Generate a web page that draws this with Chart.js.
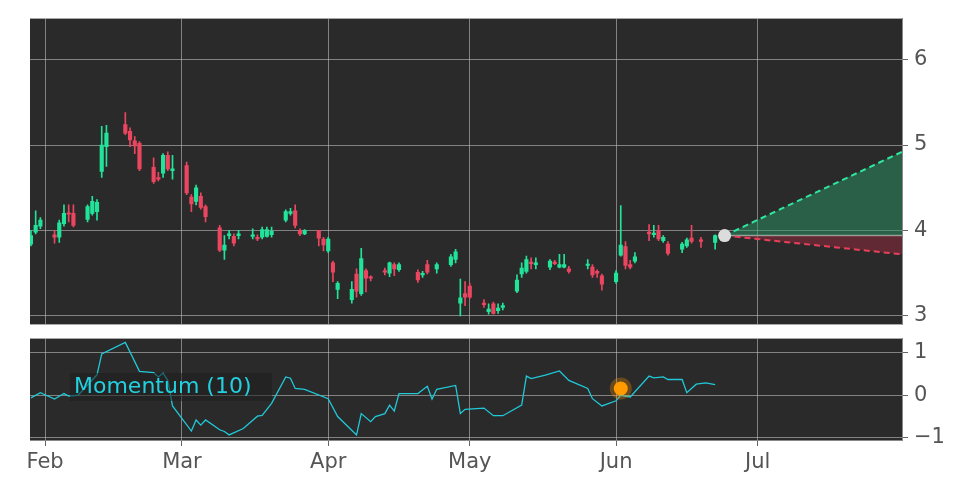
<!DOCTYPE html>
<html><head><meta charset="utf-8">
<script src="https://cdn.jsdelivr.net/npm/chart.js@4"></script>
<style>html,body{margin:0;padding:0;background:#fff;width:972px;height:486px;overflow:hidden}
canvas{position:absolute;left:0}</style></head>
<body>
<canvas id="top" width="972" height="343" style="top:0"></canvas>
<canvas id="bot" width="972" height="166" style="top:320px"></canvas>
<script>
// day index (Jan 1 = 0, leap year)
const days  = [28,29,30,33,34,35,36,37,40,41,42,43,44,48,49,50,51,54,55,56,57,58,61,62,63,64,65,68,69,70,71,72,75,76,77,78,79,82,83,84,85,86,89,90,91,92,93,96,97,98,99,100,103,104,105,106,110,111,112,114,117,118,119,120,121,124,125,126,127,128,131,132,133,134,135,138,139,140,141,142,146,147,148,149,152,153,154,155,156,159,160,161,162,163,166,167,168,170,173];
const opens = [3.84,3.98,4.05,3.95,3.92,4.08,4.2,4.2,4.13,4.2,4.22,4.69,4.98,5.24,5.16,5.05,5.02,4.74,4.62,4.67,4.88,4.7,4.76,4.39,4.34,4.4,4.28,4.03,3.77,3.94,3.93,3.94,3.93,3.92,3.92,3.93,3.95,4.12,4.2,4.23,4.0,3.96,4.0,3.9,3.76,3.62,3.31,3.19,3.49,3.26,3.53,3.45,3.53,3.5,3.6,3.54,3.51,3.48,3.6,3.55,3.6,3.66,3.15,3.26,3.35,3.15,3.05,3.14,3.06,3.1,3.29,3.49,3.52,3.63,3.6,3.57,3.63,3.57,3.57,3.55,3.59,3.57,3.52,3.47,3.4,3.71,3.81,3.6,3.64,3.98,3.95,4.0,3.88,3.84,3.78,3.82,3.91,3.89,3.86];
const closes= [3.94,4.06,4.12,3.92,4.09,4.2,4.19,4.06,4.28,4.34,4.33,5.0,5.14,5.14,5.06,4.99,4.72,4.57,4.6,4.88,4.72,4.72,4.44,4.31,4.5,4.27,4.16,3.77,3.83,3.96,3.85,3.96,3.95,3.9,4.01,4.01,3.99,4.22,4.22,4.06,3.96,4.0,3.91,3.83,3.9,3.51,3.38,3.31,3.29,3.67,3.44,3.44,3.51,3.62,3.55,3.6,3.42,3.49,3.51,3.6,3.69,3.75,3.21,3.22,3.22,3.13,3.08,3.03,3.09,3.12,3.42,3.56,3.66,3.61,3.62,3.64,3.61,3.6,3.6,3.52,3.6,3.48,3.5,3.37,3.5,3.83,3.59,3.57,3.69,3.96,3.97,3.9,3.92,3.73,3.84,3.89,3.87,3.87,3.94];
const highs = [4.0,4.23,4.15,4.0,4.12,4.3,4.3,4.3,4.3,4.4,4.36,5.22,5.23,5.38,5.2,5.1,5.04,4.85,4.68,4.9,4.92,4.88,4.8,4.42,4.53,4.44,4.3,4.06,3.94,4.0,3.96,4.0,4.02,3.95,4.04,4.04,4.04,4.24,4.26,4.3,4.02,4.01,4.0,3.92,3.92,3.64,3.4,3.4,3.55,3.79,3.55,3.47,3.56,3.63,3.62,3.62,3.54,3.52,3.65,3.62,3.72,3.78,3.43,3.4,3.38,3.19,3.14,3.16,3.14,3.15,3.48,3.62,3.7,3.68,3.68,3.66,3.65,3.72,3.72,3.58,3.66,3.6,3.54,3.49,3.53,4.29,3.87,3.65,3.74,4.07,4.06,4.06,3.94,3.87,3.86,3.91,4.06,3.92,3.95];
const lows  = [3.82,3.96,4.02,3.85,3.86,4.05,4.1,4.04,4.1,4.18,4.12,4.62,4.75,5.12,4.98,4.9,4.7,4.55,4.58,4.62,4.7,4.6,4.42,4.22,4.3,4.25,4.1,3.75,3.66,3.9,3.82,3.9,3.9,3.88,3.9,3.92,3.92,4.1,4.18,4.03,3.94,3.95,3.82,3.76,3.74,3.4,3.2,3.15,3.22,3.24,3.28,3.41,3.48,3.46,3.47,3.52,3.39,3.45,3.49,3.5,3.58,3.62,3.0,3.12,3.2,3.1,3.02,3.02,3.03,3.07,3.27,3.45,3.5,3.55,3.55,3.54,3.6,3.56,3.56,3.5,3.55,3.45,3.45,3.3,3.38,3.7,3.55,3.55,3.62,3.88,3.92,3.88,3.86,3.71,3.74,3.8,3.85,3.8,3.78];
// projection
const projDays = [175, 212.6];
const projUpper = [3.94, 4.92];
const projMid = [3.94, 3.94];
const projLower = [3.94, 3.72];
// momentum (10)
const momDays = [28,30,33,35,36,38,42,43,48,51,54,55,56,57,58,62,63,64,65,68,69,70,73,76,77,79,82,83,84,86,91,93,97,98,100,101,103,104,105,106,110,112,113,114,118,119,120,124,126,128,132,133,134,137,140,142,146,147,149,152,153,155,159,160,162,163,166,167,169,171,173];
const momVals = [-0.06,0.06,-0.09,0.04,-0.02,0,0.48,0.97,1.24,0.56,0.53,0.43,0.52,0.35,-0.25,-0.84,-0.58,-0.7,-0.58,-0.81,-0.85,-0.93,-0.78,-0.49,-0.47,-0.19,0.43,0.4,0.16,0.14,-0.08,-0.5,-0.93,-0.43,-0.62,-0.5,-0.43,-0.23,-0.37,0.04,0.04,0.21,-0.09,0.14,0.23,-0.43,-0.33,-0.3,-0.48,-0.48,-0.23,0.45,0.39,0.47,0.57,0.35,0.16,-0.08,-0.25,-0.13,0,-0.04,0.45,0.41,0.43,0.37,0.37,0.06,0.26,0.29,0.25];
const markDay = [153], markVal = [0.16];
const monthDays = [31,60,91,121,152,182];
const monthNames = ['Feb','Mar','Apr','May','Jun','Jul'];

const GREEN='#22e39a', RED='#ec4560';
const XMIN=27.8, XMAX=212.6;
const font={family:'DejaVu Sans',size:21};
Chart.defaults.scale.grid.borderDash=[4,3];
const bg={id:'bg',beforeDraw(c){const a=c.chartArea,x=c.ctx;x.save();x.fillStyle='#2a2a2a';x.fillRect(a.left,a.top,a.right-a.left,a.bottom-a.top);x.restore();}};
const grid={color:'rgba(190,190,190,0.6)',lineWidth:1,tickColor:'#666',tickLength:6,borderDash:[4,3]};

const colors = opens.map((o,i)=>closes[i]>=o?GREEN:RED);
new Chart(document.getElementById('top'),{
  type:'bar',
  data:{datasets:[
    {type:'line',data:projDays.map((d,i)=>({x:d,y:projMid[i]})),borderColor:'#cfcfcf',borderWidth:1.5,pointRadius:0,order:5},
    {type:'line',data:projDays.map((d,i)=>({x:d,y:projUpper[i]})),borderColor:'#2ee6a0',borderDash:[6,4],borderWidth:2,pointRadius:0,fill:'-1',backgroundColor:'rgba(40,150,100,0.5)',order:4},
    {type:'line',data:projDays.map((d,i)=>({x:d,y:projLower[i]})),borderColor:'#e8405a',borderDash:[6,4],borderWidth:2,pointRadius:0,fill:0,backgroundColor:'rgba(150,40,60,0.5)',order:4},
    {data:days.map((d,i)=>({x:d,y:[lows[i],highs[i]]})),backgroundColor:colors,barThickness:1,grouped:false,order:3},
    {data:days.map((d,i)=>({x:d,y:[opens[i],closes[i]]})),backgroundColor:colors,barThickness:3.5,minBarLength:1.5,grouped:false,order:2},
    {type:'scatter',data:[{x:projDays[0],y:projMid[0]}],pointRadius:6.5,backgroundColor:'#dcdcdc',borderWidth:0,order:1}
  ]},
  options:{responsive:false,animation:false,devicePixelRatio:1,
    layout:{padding:{left:30,top:12,bottom:7,right:0}},
    plugins:{legend:{display:false},tooltip:{enabled:false}},
    scales:{
      x:{type:'linear',offset:false,min:XMIN,max:XMAX,border:{display:false},grid:{...grid,drawTicks:false,offset:false},ticks:{display:false},
        afterBuildTicks:s=>{s.ticks=monthDays.map(v=>({value:v}));},afterFit:s=>{s.height=0;}},
      y:{position:'right',min:2.9,max:6.48,border:{color:'#888'},grid:{...grid},
        ticks:{color:'#555',font,padding:6},afterBuildTicks:s=>{s.ticks=[3,4,5,6].map(v=>({value:v}));},afterFit:s=>{s.width=70;}}
    }},
  plugins:[bg]
});

const label={id:'lbl',afterDatasetsDraw(c){const x=c.ctx;x.save();x.font='22px DejaVu Sans';x.fillStyle='rgba(30,30,30,0.55)';x.fillRect(70,53,202,28);x.fillStyle='#22d0e0';x.textBaseline='middle';x.fillText('Momentum (10)',74,67);x.restore();}};
new Chart(document.getElementById('bot'),{
  type:'line',
  data:{datasets:[
    {data:momDays.map((d,i)=>({x:d,y:momVals[i]})),borderColor:'#20c8d8',borderWidth:1.3,pointRadius:0,tension:0,order:2},
    {type:'scatter',data:markDay.map((d,i)=>({x:d,y:markVal[i]})),pointRadius:7,backgroundColor:'#ff9d00',borderColor:'rgba(255,150,0,0.3)',borderWidth:8,order:1}
  ]},
  options:{responsive:false,animation:false,devicePixelRatio:1,
    layout:{padding:{left:30,top:8,right:0,bottom:0}},
    plugins:{legend:{display:false},tooltip:{enabled:false}},
    scales:{
      x:{type:'linear',min:XMIN,max:XMAX,border:{color:'#888'},grid:{...grid},
        ticks:{color:'#555',font,padding:4,maxRotation:0,callback:v=>monthNames[monthDays.indexOf(v)]},
        afterBuildTicks:s=>{s.ticks=monthDays.map(v=>({value:v}));},afterFit:s=>{s.height=46;}},
      y:{position:'right',min:-1.05,max:1.33,border:{color:'#888'},grid:{...grid},
        ticks:{color:'#555',font,padding:6,callback:v=>String(v).replace('-','\u2212')},
        afterBuildTicks:s=>{s.ticks=[-1,0,1].map(v=>({value:v}));},afterFit:s=>{s.width=70;}}
    }},
  plugins:[bg,label]
});
</script></body></html>
